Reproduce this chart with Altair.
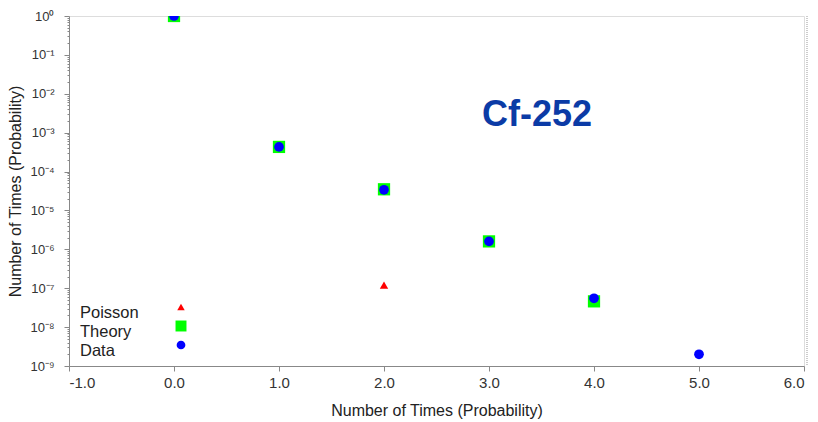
import altair as alt
import pandas as pd

# ---- data ----
poisson_x = [0, 1, 2]
poisson_y = [1.0, 4.6e-4, 1.2e-7]
theory_x = [0, 1, 2, 3, 4]
theory_y = [1.0, 4.3e-4, 3.5e-5, 1.6e-6, 4.6e-8]
data_x = [0, 1, 2, 3, 4, 5]
data_y = [1.0, 4.3e-4, 3.4e-5, 1.6e-6, 5.5e-8, 2.0e-9]
x_ticks = [-1, 0, 1, 2, 3, 4, 5, 6]
sup_labels = ["10⁰", "10⁻¹", "10⁻²", "10⁻³", "10⁻⁴", "10⁻⁵", "10⁻⁶", "10⁻⁷", "10⁻⁸", "10⁻⁹"]
legend_labels = ["Poisson", "Theory", "Data"]
series_colors = ["#ff0000", "#00ff00", "#0000ff"]
series_shapes = ["triangle-up", "square", "circle"]
series_sizes = [70, 150, 95]
title_text = "Cf-252"
axis_title = "Number of Times (Probability)"

W, H = 735, 350
y_ticks = [m * 10.0 ** k for k in range(-9, 0) for m in range(1, 10)] + [1.0]

rows = []
for s, xs, ys in zip(legend_labels, [poisson_x, theory_x, data_x], [poisson_y, theory_y, data_y]):
    for a, b in zip(xs, ys):
        rows.append({"series": s, "x": a, "y": b})
df = pd.DataFrame(rows)

is_major = "abs(log(datum.value)/LN10 - round(log(datum.value)/LN10)) < 0.001"
sup_arr = "[" + ",".join("'" + s + "'" for s in sup_labels) + "]"
label_expr = f"{is_major} ? {sup_arr}[-round(log(datum.value)/LN10)] : ''"
x_label_expr = "datum.value < 0 ? '-' + format(-datum.value, '.1f') : format(datum.value, '.1f')"

x_enc = alt.X("x:Q", scale=alt.Scale(domain=[-1, 6], nice=False, zero=False),
              axis=alt.Axis(values=x_ticks, labelExpr=x_label_expr, title=axis_title, grid=False,
                            tickSize=5, labelPadding=4, labelFontSize=15, titleFontSize=16,
                            titleFontWeight="normal", titlePadding=12, labelFont="Liberation Sans",
                            titleFont="Liberation Sans", domainColor="#888", tickColor="#888",
                            labelColor="#333", titleColor="#222"))
y_enc = alt.Y("y:Q", scale=alt.Scale(type="log", domain=[1e-9, 1], nice=False),
              axis=alt.Axis(values=y_ticks, labelExpr=label_expr, grid=False,
                            tickSize={"condition": {"test": is_major, "value": 5}, "value": 2},
                            labelPadding=10, labelFontSize=13, title=axis_title, titleFontSize=16,
                            titleFontWeight="normal", titlePadding=6, labelFont="Liberation Sans",
                            titleFont="Liberation Sans", domainColor="#888", tickColor="#888",
                            labelColor="#333", titleColor="#222"))

layers = []
for s, c, sh, sz in zip(legend_labels, series_colors, series_shapes, series_sizes):
    layers.append(
        alt.Chart(df[df.series == s]).mark_point(filled=True, shape=sh, size=sz, color=c,
                                                  opacity=1, clip=True)
        .encode(x=x_enc, y=y_enc)
    )

# manual legend (labels on the left, symbols on the right)
leg_text_y = [297, 316, 335]
leg_sym_y = [291, 310, 329]
for s, c, sh, sz, ty, sy in zip(legend_labels, series_colors, series_shapes, series_sizes,
                                leg_text_y, leg_sym_y):
    layers.append(
        alt.Chart(pd.DataFrame({"t": [s]})).mark_text(align="left", fontSize=16.5,
                                                      font="Liberation Sans", color="#222")
        .encode(text="t:N", x=alt.value(11), y=alt.value(ty))
    )
    layers.append(
        alt.Chart(pd.DataFrame({"t": [s]})).mark_point(filled=True, shape=sh, size=sz * 0.8,
                                                       color=c, opacity=1)
        .encode(x=alt.value(112), y=alt.value(sy))
    )

title_layer = alt.Chart(pd.DataFrame({"t": [title_text]})).mark_text(
    align="center", baseline="alphabetic", fontSize=36, fontWeight="bold",
    font="Liberation Sans", color="#0b3ba6"
).encode(text="t:N", x=alt.value(468), y=alt.value(110))
layers.append(title_layer)

right_rule = alt.Chart(pd.DataFrame({"a": [0]})).mark_rule(color="#999", strokeDash=[1, 1],
                                                            strokeWidth=1).encode(
    x=alt.value(W + 3), y=alt.value(0), y2=alt.value(H))
layers.append(right_rule)

chart = alt.layer(*layers).properties(
    width=W, height=H,
    autosize=alt.AutoSizeParams(type="none"),
    padding={"left": 61, "top": 8, "right": 6, "bottom": 56},
).configure_view(stroke="#aaa", strokeWidth=1.2).configure(background="white")

chart.save("out.html", embed_options={"renderer": "svg", "actions": False})
